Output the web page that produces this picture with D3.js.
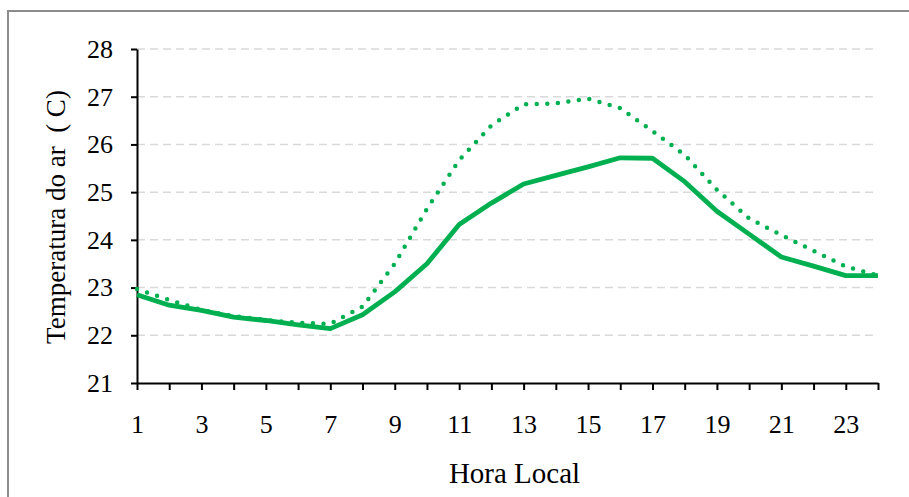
<!DOCTYPE html>
<html>
<head>
<meta charset="utf-8">
<script src="https://cdn.jsdelivr.net/npm/d3@7"></script>
<style>
  body { margin: 0; background: #fff; }
  svg, svg text { font-family: "Liberation Serif", serif; }
</style>
</head>
<body>
<div id="chart"></div>
<script>
// hourly values
const hours = d3.range(1, 25);
const solidTemp = [22.85, 22.63, 22.52, 22.38, 22.31, 22.22, 22.14, 22.43, 22.91, 23.5,
                   24.32, 24.77, 25.17, 25.35, 25.53, 25.72, 25.71, 25.22, 24.6, 24.12,
                   23.64, 23.45, 23.25, 23.25];
const dottedTemp = [22.97, 22.74, 22.53, 22.4, 22.32, 22.26, 22.24, 22.6, 23.5, 24.65,
                    25.67, 26.4, 26.84, 26.86, 26.96, 26.76, 26.28, 25.78, 25.05, 24.45,
                    24.1, 23.77, 23.44, 23.25];
const yTicks = [21, 22, 23, 24, 25, 26, 27, 28];
const xLabels = [1, 3, 5, 7, 9, 11, 13, 15, 17, 19, 21, 23];

const width = 909;
const height = 497;
const margin = { top: 49, right: 31, bottom: 114, left: 137 };
const green = "#00b050";

const svg = d3.select("#chart").append("svg")
    .attr("width", width)
    .attr("height", height);

// outer frame (right/bottom edges fall outside the picture)
svg.append("rect")
    .attr("x", 8)
    .attr("y", 11)
    .attr("width", 1000)
    .attr("height", 1000)
    .attr("fill", "none")
    .attr("stroke", "#8c8c8c")
    .attr("stroke-width", 2);

const x = d3.scaleLinear()
    .domain([1, 24])
    .range([margin.left, width - margin.right]);

const y = d3.scaleLinear()
    .domain([21, 28])
    .range([height - margin.bottom, margin.top]);

// gridlines
svg.append("g")
    .selectAll("line")
    .data(yTicks.filter(d => d > 21))
    .enter()
    .append("line")
    .attr("x1", x(1))
    .attr("x2", x(24))
    .attr("y1", d => y(d))
    .attr("y2", d => y(d))
    .attr("stroke", "#d9d9d9")
    .attr("stroke-width", 1.5)
    .attr("stroke-dasharray", "8,5");

// y axis
const yAxis = svg.append("g")
    .attr("transform", `translate(${x(1)},0)`)
    .call(d3.axisLeft(y).tickValues(yTicks).tickSize(6).tickPadding(18).tickSizeOuter(0)
        .tickFormat(d3.format("d")));

// x axis, tick at every hour, label on odd hours
const xAxis = svg.append("g")
    .attr("transform", `translate(0,${y(21)})`)
    .call(d3.axisBottom(x).tickValues(hours).tickSize(7).tickPadding(25).tickSizeOuter(0)
        .tickFormat(d => xLabels.includes(d) ? d : ""));

[yAxis, xAxis].forEach(g => {
    g.attr("font-family", "Liberation Serif").attr("font-size", 26);
    g.select(".domain").attr("stroke", "#000").attr("stroke-width", 2);
    g.selectAll(".tick line").attr("stroke", "#000").attr("stroke-width", 2);
    g.selectAll(".tick text").attr("fill", "#000");
});

const line = d3.line()
    .x((d, i) => x(hours[i]))
    .y(d => y(d));

svg.append("path")
    .datum(dottedTemp)
    .attr("d", line)
    .attr("fill", "none")
    .attr("stroke", green)
    .attr("stroke-width", 4.5)
    .attr("stroke-linecap", "round")
    .attr("stroke-dasharray", "0,10.6");

svg.append("path")
    .datum(solidTemp)
    .attr("d", line)
    .attr("fill", "none")
    .attr("stroke", green)
    .attr("stroke-width", 4.8)
    .attr("stroke-linejoin", "round");

// axis titles
svg.append("text")
    .attr("x", (x(1) + x(24)) / 2 + 7)
    .attr("y", 483)
    .attr("text-anchor", "middle")
    .attr("font-size", 29)
    .attr("fill", "#000")
    .text("Hora Local");

svg.append("text")
    .attr("transform", `translate(65,217) rotate(-90)`)
    .attr("text-anchor", "middle")
    .attr("font-size", 27)
    .attr("fill", "#000")
    .style("white-space", "pre")
    .text("Temperatura do ar  ( C)");
</script>
</body>
</html>
